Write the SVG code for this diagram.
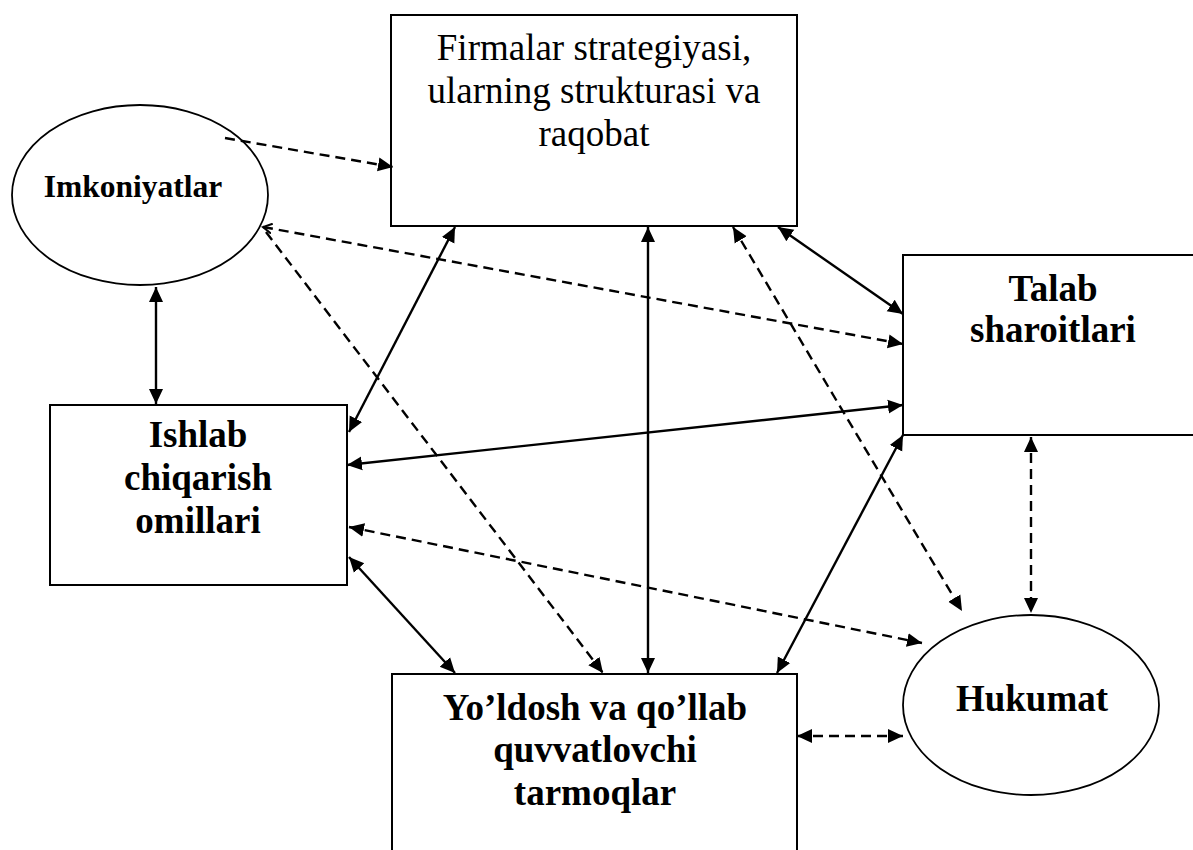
<svg xmlns="http://www.w3.org/2000/svg" width="1193" height="850" viewBox="0 0 1193 850">
<style>
.box{fill:#fff;stroke:#000;stroke-width:2}
.ell{fill:#fff;stroke:#000;stroke-width:1.8}
.t{font-family:"Liberation Serif","Times New Roman",serif;font-size:37px;fill:#000;text-anchor:middle}
.b{font-weight:bold}
.s{stroke:#000;stroke-width:2.4;fill:none}
.d{stroke:#000;stroke-width:2.4;fill:none;stroke-dasharray:10 6}
.bi{marker-start:url(#ah);marker-end:url(#ah)}
.e{marker-end:url(#ah)}
</style>
<defs>
<marker id="ah" markerUnits="userSpaceOnUse" markerWidth="16" markerHeight="16" refX="15" refY="7" orient="auto-start-reverse" viewBox="0 0 16 14">
<path d="M0,0 L15,7 L0,14 z" fill="#000"/>
</marker>
<marker id="oh" markerUnits="userSpaceOnUse" markerWidth="12" markerHeight="12" refX="9" refY="5" orient="auto-start-reverse" viewBox="0 0 12 10">
<path d="M0,0 L9,5 L0,10" fill="none" stroke="#000" stroke-width="2"/>
</marker>
</defs>
<rect width="1193" height="850" fill="#fff"/>
<g id="n-firmalar">
<rect class="box" x="391" y="15" width="406" height="211"/>
<text class="t" x="594" y="60">Firmalar strategiyasi,</text>
<text class="t" x="594" y="103">ularning strukturasi va</text>
<text class="t" x="594" y="146">raqobat</text>
</g>
<g id="n-imkoniyatlar">
<ellipse class="ell" cx="140" cy="195" rx="128" ry="90"/>
<text class="t b" x="133" y="197" style="font-size:31.5px">Imkoniyatlar</text>
</g>
<g id="n-ishlab">
<rect class="box" x="50" y="405" width="297" height="180"/>
<text class="t b" x="198" y="447">Ishlab</text>
<text class="t b" x="198" y="490">chiqarish</text>
<text class="t b" x="198" y="533">omillari</text>
</g>
<g id="n-talab">
<rect class="box" x="903" y="255" width="310" height="180"/>
<text class="t b" x="1053" y="301">Talab</text>
<text class="t b" x="1053" y="342">sharoitlari</text>
</g>
<g id="n-yoldosh">
<rect class="box" x="392" y="674" width="405" height="200"/>
<text class="t b" x="595" y="720">Yo’ldosh va qo’llab</text>
<text class="t b" x="595" y="762">quvvatlovchi</text>
<text class="t b" x="595" y="805">tarmoqlar</text>
</g>
<g id="n-hukumat">
<ellipse class="ell" cx="1031" cy="705" rx="128" ry="90"/>
<text class="t b" x="1032" y="711">Hukumat</text>
</g>
<g id="connectors">
<line class="d e" x1="225" y1="138" x2="393" y2="167"/>
<line class="d e" x1="263" y1="227" x2="903" y2="344" style="marker-start:url(#oh)"/>
<line class="d e" x1="266" y1="232" x2="603" y2="673"/>
<line class="s bi" x1="156" y1="287" x2="156" y2="404"/>
<line class="s bi" x1="349" y1="432" x2="455" y2="227"/>
<line class="s bi" x1="648" y1="227" x2="648" y2="673"/>
<line class="d bi" x1="733" y1="227" x2="962" y2="611"/>
<line class="s bi" x1="778" y1="227" x2="903" y2="314"/>
<line class="s bi" x1="903" y1="405" x2="347" y2="465"/>
<line class="d bi" x1="349" y1="527" x2="922" y2="643"/>
<line class="s bi" x1="349" y1="557" x2="455" y2="673"/>
<line class="s bi" x1="903" y1="435" x2="777" y2="673"/>
<line class="d bi" x1="1031" y1="437" x2="1031" y2="613"/>
<line class="d bi" x1="797" y1="736" x2="903" y2="736"/>
</g>
</svg>
